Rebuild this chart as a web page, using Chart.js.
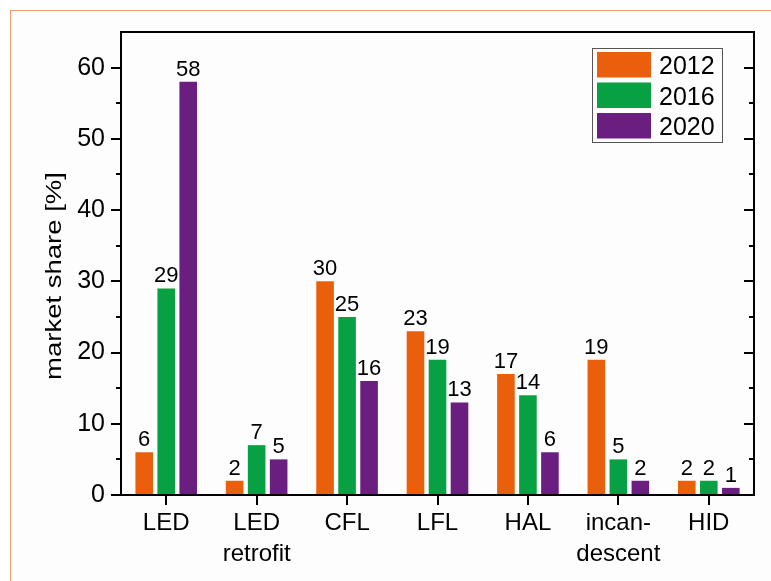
<!DOCTYPE html>
<html>
<head>
<meta charset="utf-8">
<script src="https://cdn.jsdelivr.net/npm/chart.js@4.4.0/dist/chart.umd.min.js"></script>
<style>
  html, body { margin: 0; padding: 0; background: #fff; }
  #wrap { position: relative; width: 771px; height: 581px; overflow: hidden; }
  #panel {
    position: absolute; left: 10px; top: 10px; right: 0; bottom: 0;
    border-left: 1.5px solid #f59a72; border-top: 1.5px solid #f59a72;
    background: #fdfdfd;
  }
  canvas { position: absolute; left: 0; top: 0; }
</style>
</head>
<body>
<div id="wrap">
  <div id="panel"></div>
  <canvas id="chart" width="771" height="581"></canvas>
</div>
<script>
// lamp types on the x axis (multi-line labels)
const categories = [['LED'], ['LED', 'retrofit'], ['CFL'], ['LFL'], ['HAL'], ['incan-', 'descent'], ['HID']]
const years = ['2012', '2016', '2020']
const share2012 = [6, 2, 30, 23, 17, 19, 2]
const share2016 = [29, 7, 25, 19, 14, 5, 2]
const share2020 = [58, 5, 16, 13, 6, 2, 1]
const yTicks = [0, 10, 20, 30, 40, 50, 60]
const yMax = 65
const barColors = ['#e95f0b', '#07a043', '#6a1e80']

const FONT = '"Liberation Sans", Arial, sans-serif'

// frame, tick marks, value labels, legend box and axis title
const extrasPlugin = {
    id: 'extras',
    afterDraw(chart) {
        const ctx = chart.ctx
        const area = chart.chartArea
        const xs = chart.scales.x
        const ys = chart.scales.y

        ctx.save()
        ctx.strokeStyle = '#000'
        ctx.lineWidth = 2
        ctx.strokeRect(area.left, area.top, area.right - area.left, area.bottom - area.top)

        // y ticks: majors on the labels, minors half way; outward on the left, inward on the right
        const marks = []
        yTicks.forEach((v, i) => {
            marks.push({ v: v, len: 10 })
            const next = i < yTicks.length - 1 ? yTicks[i + 1] : v + 10
            const mid = (v + next) / 2
            if (mid < yMax) marks.push({ v: mid, len: 5 })
        })
        ctx.beginPath()
        marks.forEach(m => {
            const py = Math.round(ys.getPixelForValue(m.v))
            ctx.moveTo(area.left - m.len, py)
            ctx.lineTo(area.left, py)
            ctx.moveTo(area.right - m.len, py)
            ctx.lineTo(area.right, py)
        })
        // x ticks at the category centres
        categories.forEach((c, i) => {
            const px = Math.round(xs.getPixelForValue(i))
            ctx.moveTo(px, area.bottom)
            ctx.lineTo(px, area.bottom + 10)
        })
        ctx.stroke()

        // value labels above the bars
        ctx.fillStyle = '#000'
        ctx.font = '22px ' + FONT
        ctx.textAlign = 'center'
        ctx.textBaseline = 'alphabetic'
        chart.data.datasets.forEach((ds, di) => {
            const meta = chart.getDatasetMeta(di)
            meta.data.forEach((bar, i) => {
                ctx.fillText(String(ds.data[i]), bar.x, bar.y - 6)
            })
        })

        // legend box in the upper right corner
        const bx = area.right - 162
        const by = area.top + 16
        ctx.lineWidth = 1
        ctx.strokeStyle = '#555'
        ctx.strokeRect(bx + 0.5, by + 0.5, 130, 94)
        ctx.font = '25px ' + FONT
        ctx.textAlign = 'left'
        chart.data.datasets.forEach((ds, di) => {
            const top = by + 4 + di * 30.5
            ctx.fillStyle = ds.backgroundColor
            ctx.fillRect(bx + 5, top, 54, 25.5)
            ctx.fillStyle = '#000'
            ctx.fillText(ds.label, bx + 67, top + 22)
        })

        // rotated y axis title, stretched along its length like the original
        ctx.translate(61, 276)
        ctx.rotate(-Math.PI / 2)
        ctx.scale(1.25, 1)
        ctx.font = '22px ' + FONT
        ctx.textAlign = 'center'
        ctx.fillText('market share [%]', 0, 0)
        ctx.restore()
    }
}

const ctx = document.getElementById('chart').getContext('2d')
new Chart(ctx, {
    type: 'bar',
    data: {
        labels: categories,
        datasets: [
            { label: years[0], data: share2012, backgroundColor: barColors[0] },
            { label: years[1], data: share2016, backgroundColor: barColors[1] },
            { label: years[2], data: share2020, backgroundColor: barColors[2] }
        ]
    },
    options: {
        responsive: false,
        animation: false,
        layout: { padding: { left: 0, right: 17, top: 32, bottom: 0 } },
        datasets: {
            bar: { categoryPercentage: 0.73, barPercentage: 0.8, borderWidth: 0 }
        },
        plugins: {
            legend: { display: false },
            tooltip: { enabled: false }
        },
        scales: {
            x: {
                grid: { display: true, drawOnChartArea: false, drawTicks: true, tickLength: 10, color: 'rgba(0,0,0,0)' },
                border: { display: false },
                ticks: {
                    color: '#000',
                    font: { family: FONT, size: 24, lineHeight: 1.3 },
                    padding: 3,
                    maxRotation: 0,
                    autoSkip: false
                },
                afterFit(scale) { scale.height = 86 }
            },
            y: {
                min: 0,
                max: yMax,
                grid: { display: true, drawOnChartArea: false, drawTicks: true, tickLength: 10, color: 'rgba(0,0,0,0)' },
                border: { display: false },
                ticks: {
                    color: '#000',
                    font: { family: FONT, size: 25 },
                    padding: 6
                },
                afterBuildTicks(scale) { scale.ticks = yTicks.map(v => ({ value: v })) },
                afterFit(scale) { scale.width = 121 }
            }
        }
    },
    plugins: [extrasPlugin]
})
</script>
</body>
</html>
